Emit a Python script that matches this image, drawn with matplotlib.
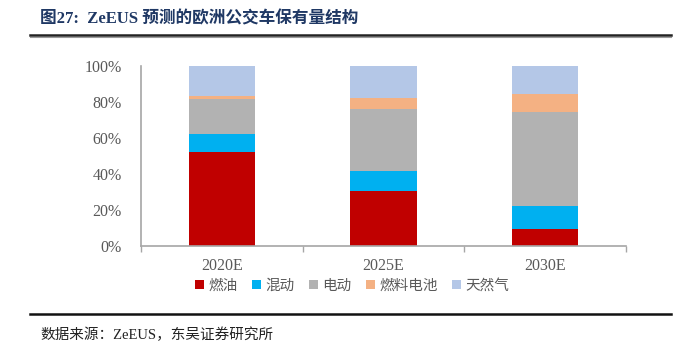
import matplotlib
matplotlib.use("Agg")
import matplotlib.pyplot as plt
from matplotlib.patches import Patch
from matplotlib.lines import Line2D
import numpy as np

years = ["2020E", "2025E", "2030E"]
series_names = ["燃油", "混动", "电动", "燃料电池", "天然气"]
fuel = [52.5, 30.5, 9.6]
hybrid = [10.0, 11.0, 12.9]
electric = [19.0, 34.5, 51.9]
fuel_cell = [2.0, 6.3, 9.9]
natural_gas = [16.5, 17.7, 15.7]
y_ticks = [0, 20, 40, 60, 80, 100]
y_tick_labels = ["0%", "20%", "40%", "60%", "80%", "100%"]

colors = ["#C00000", "#00B0F0", "#B2B2B2", "#F4B183", "#B4C7E7"]
fam = ["Liberation Serif", "Noto Sans CJK SC"]
grey_txt = "#595959"
axis_col = "#A6A6A6"

fig = plt.figure(figsize=(6.87, 3.43), dpi=100)
ax = fig.add_axes([141 / 687, (343 - 246) / 343, 485 / 687, 180 / 343])

x = np.arange(len(years))
bottom = np.zeros(len(years))
for vals, col, name in zip([fuel, hybrid, electric, fuel_cell, natural_gas], colors, series_names):
    ax.bar(x, vals, bottom=bottom, width=0.41, color=col, label=name, zorder=2)
    bottom += np.array(vals)

ax.set_xlim(-0.5, 2.5)
ax.set_ylim(0, 100)
ax.set_yticks(y_ticks)
ax.set_yticklabels(y_tick_labels, family=fam, fontsize=11.5, color=grey_txt)
ax.tick_params(axis="y", length=0, pad=14)
ax.set_xticks([-0.5, 0.5, 1.5, 2.5])
ax.set_xticklabels([])
ax.set_xticks(x, minor=True)
ax.set_xticklabels(years, minor=True, family=fam, fontsize=11.5, color=grey_txt)
ax.tick_params(axis="x", which="major", length=4, color=axis_col, width=1)
ax.tick_params(axis="x", which="minor", length=0, pad=9)
for s in ["top", "right"]:
    ax.spines[s].set_visible(False)
ax.spines["left"].set_color(axis_col)
ax.spines["bottom"].set_color(axis_col)
ax.spines["left"].set_linewidth(1.2)
ax.spines["bottom"].set_linewidth(1.2)

handles = [Patch(facecolor=c, edgecolor="none") for c in colors]
leg = fig.legend(handles, series_names, loc="center", bbox_to_anchor=(352 / 687, 1 - 286 / 343),
                 ncol=5, frameon=False, prop={"family": fam, "size": 10.5},
                 handlelength=0.6, handleheight=0.6, handletextpad=0.3, columnspacing=1.0)
for t in leg.get_texts():
    t.set_color(grey_txt)

fig.text(40 / 687, 1 - 19 / 343, "图27:  ZeEUS 预测的欧洲公交车保有量结构", family=fam,
         fontsize=12, fontweight="bold", color="#1F3864", va="center", ha="left")

fig.add_artist(Line2D([30 / 687, 671 / 687], [1 - 35 / 343, 1 - 35 / 343], color="#222222", lw=1.8))
fig.add_artist(Line2D([30 / 687, 671 / 687], [1 - 36.5 / 343, 1 - 36.5 / 343], color="#9A9A9A", lw=0.8))
fig.add_artist(Line2D([30 / 687, 671 / 687], [1 - 314 / 343, 1 - 314 / 343], color="#111111", lw=1.8))

fig.text(40 / 687, 1 - 335 / 343, "数据来源：ZeEUS，东吴证券研究所", family=fam,
         fontsize=10.5, color="#222222", va="center", ha="left")

fig.savefig("out.png", dpi=100)
